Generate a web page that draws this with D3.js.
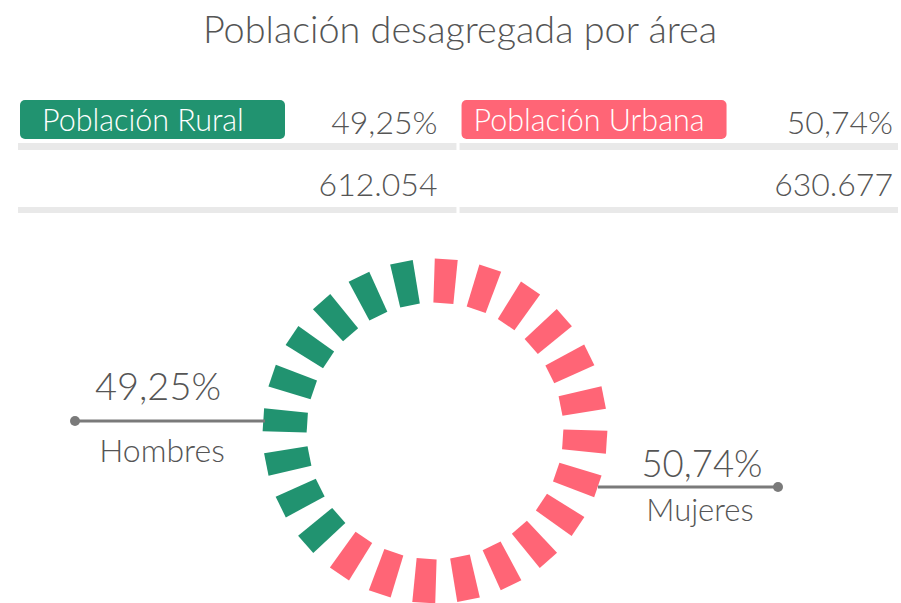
<!DOCTYPE html>
<html>
<head>
<meta charset="utf-8">
<script src="https://cdn.jsdelivr.net/npm/d3@7"></script>
<style>
  html, body { margin: 0; padding: 0; background: #ffffff; }
  svg { display: block; }
  text { font-family: "Lato", "Open Sans", sans-serif; font-weight: 300; }
</style>
</head>
<body>
<svg id="chart" width="901" height="603"></svg>
<script>
// ---- data ----
const chartTitle = "Población desagregada por área";
const areaLabels = ["Población Rural", "Población Urbana"];
const areaPercents = ["49,25%", "50,74%"];
const areaPopulation = ["612.054", "630.677"];
const genderLabels = ["Hombres", "Mujeres"];
const genderPercents = ["49,25%", "50,74%"];
// ring segments: counts per group as drawn (starting at top, clockwise: Mujeres then Hombres)
const ringGroups = ["Mujeres", "Hombres"];
const ringCounts = [15, 9];

// ---- styles ----
const GREEN = "#219370";
const RED = "#ff6576";
const TEXT = "#555555";
const BAR = "#e9e9e9";
const LINE = "#7a7a7a";

const svg = d3.select("#chart");

// title
svg.append("text")
  .attr("x", 460).attr("y", 43)
  .attr("text-anchor", "middle")
  .attr("font-size", 37.8)
  .attr("fill", TEXT)
  .text(chartTitle);

// ---- table ----
const colX = d3.scaleBand().domain(areaLabels).range([18, 898]).paddingInner(0.007);
const areaColor = d3.scaleOrdinal().domain(areaLabels).range([GREEN, RED]);
const labelPad = [24, 14];
const numPad = [19, 5];

const cols = svg.selectAll("g.col").data(areaLabels).enter().append("g")
  .attr("class", "col")
  .attr("transform", d => `translate(${colX(d)},0)`);

cols.append("rect")
  .attr("x", 2).attr("y", 100).attr("width", 265).attr("height", 39)
  .attr("rx", 5).attr("fill", d => areaColor(d));
cols.append("text")
  .attr("x", (d, i) => labelPad[i]).attr("y", 131)
  .attr("font-size", 30.5).attr("fill", "#ffffff")
  .text(d => d);
cols.append("rect")
  .attr("x", 0).attr("y", 143).attr("width", colX.bandwidth()).attr("height", 7)
  .attr("fill", BAR);
cols.append("rect")
  .attr("x", 0).attr("y", 207).attr("width", colX.bandwidth()).attr("height", 6)
  .attr("fill", BAR);
cols.append("text")
  .attr("x", (d, i) => colX.bandwidth() - numPad[i]).attr("y", 134)
  .attr("text-anchor", "end")
  .attr("font-size", 32).attr("fill", TEXT)
  .text((d, i) => areaPercents[i]);
cols.append("text")
  .attr("x", (d, i) => colX.bandwidth() - numPad[i]).attr("y", 196)
  .attr("text-anchor", "end")
  .attr("font-size", 32).attr("fill", TEXT)
  .text((d, i) => areaPopulation[i]);

// ---- ring ----
const cx = 435, cy = 431;
const rInner = 128, rOuter = 172, segW = 22;
const total = d3.sum(ringCounts);
const segments = [];
ringGroups.forEach((g, gi) => {
  for (let k = 0; k < ringCounts[gi]; k++) segments.push(g);
});
const angle = d3.scaleLinear().domain([0, total]).range([3.75, 363.75]);
const ringColor = d3.scaleOrdinal().domain(["Hombres", "Mujeres"]).range([GREEN, RED]);

const ring = svg.append("g").attr("transform", `translate(${cx},${cy})`);
ring.selectAll("path.seg").data(segments).enter().append("path")
  .attr("class", "seg")
  .attr("transform", (d, i) => `rotate(${angle(i)})`)
  .attr("d", d3.line()([
    [-segW / 2 - 0.5, -rOuter], [segW / 2 + 0.5, -rOuter],
    [segW / 2 - 1, -rInner], [-segW / 2 + 1, -rInner]
  ]))
  .attr("fill", d => ringColor(d));

// ---- leaders ----
const leaders = [
  { x1: 75, x2: 265, y: 421, dot: 75, px: 158, py: 400, pf: 38, lx: 162, ly: 462, lf: 32 },
  { x1: 598, x2: 778, y: 487, dot: 778, px: 702, py: 477, pf: 36.5, lx: 700, ly: 521, lf: 31 }
];
leaders.forEach((L, i) => {
  svg.append("line")
    .attr("x1", L.x1).attr("x2", L.x2).attr("y1", L.y).attr("y2", L.y)
    .attr("stroke", LINE).attr("stroke-width", 3);
  svg.append("circle").attr("cx", L.dot).attr("cy", L.y).attr("r", 5).attr("fill", LINE);
  svg.append("text")
    .attr("x", L.px).attr("y", L.py).attr("text-anchor", "middle")
    .attr("font-size", L.pf).attr("fill", TEXT)
    .text(genderPercents[i]);
  svg.append("text")
    .attr("x", L.lx).attr("y", L.ly).attr("text-anchor", "middle")
    .attr("font-size", L.lf).attr("fill", TEXT)
    .text(genderLabels[i]);
});
</script>
</body>
</html>
